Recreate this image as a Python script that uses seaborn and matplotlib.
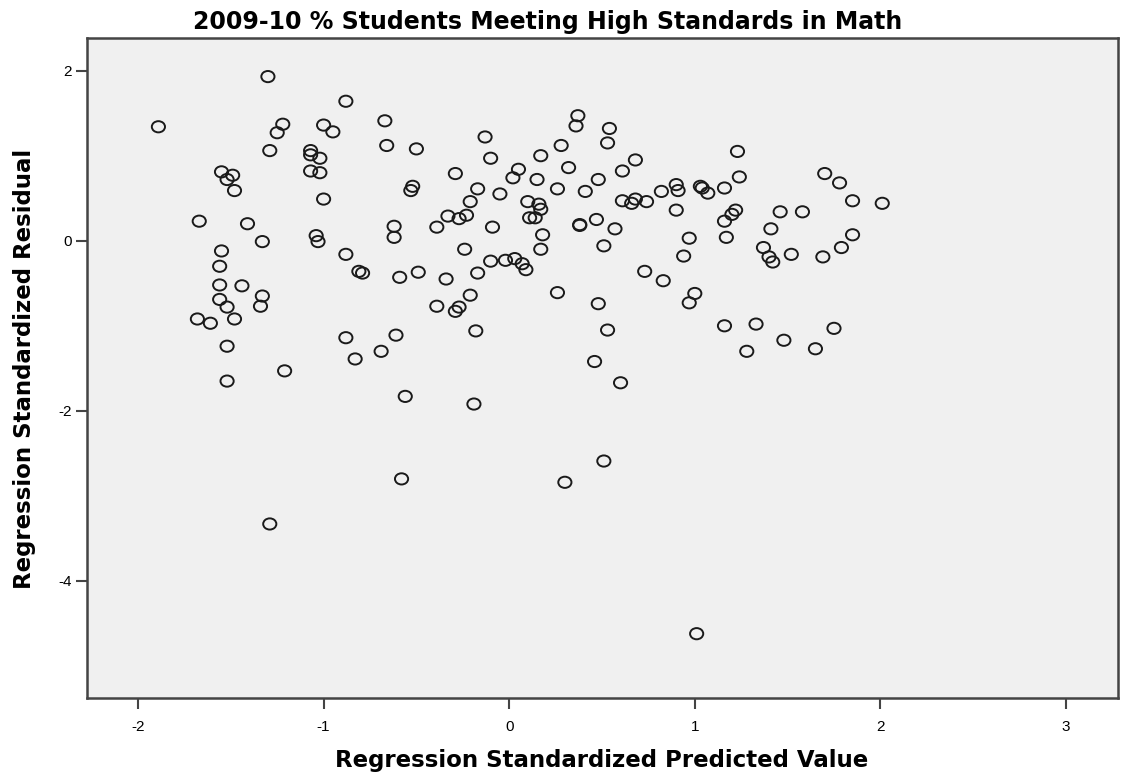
import pandas as pd
import seaborn as sns
import matplotlib.pyplot as plt
from matplotlib.path import Path
from matplotlib.transforms import Affine2D

# standardized predicted values (x) and residuals (y)
pred = [-1.89, -1.30, -0.88, -1.22, -1.25, -1.00, -0.95, -1.29, -1.07, -1.07,
        -1.02, -1.07, -1.02, -1.55, -1.49, -1.52, -1.48, -1.00, -1.67, -1.41,
        -1.33, -1.04, -1.03, -0.88, -1.55, -1.56, -1.56, -1.44, -1.33, -1.34,
        -1.56, -1.52, -1.48, -1.68, -1.61, -1.52, -1.52, -1.21, -1.29, -0.81,
        -0.79, -0.88, -0.83, -0.67, -0.66, -0.50, -0.13, -0.10, -0.29, -0.52,
        -0.53, 0.05, 0.02, 0.17, 0.28, 0.32, 0.37, 0.36, 0.15, 0.26,
        0.41, 0.48, -0.17, -0.05, -0.21, 0.10, 0.16, 0.17, 0.11, 0.14,
        -0.33, -0.23, -0.27, -0.39, -0.09, -0.62, -0.62, 0.18, 0.17, -0.24,
        0.38, 0.38, 0.47, 0.51, -0.59, -0.49, -0.34, -0.17, -0.10, -0.02,
        0.03, 0.07, 0.09, 0.26, 0.48, -0.21, -0.39, -0.27, -0.29, -0.18,
        -0.61, -0.69, 0.46, -0.56, -0.19, -0.58, 0.30, 0.51, 0.54, 0.53,
        0.68, 0.61, 0.61, 0.66, 0.68, 0.74, 0.82, 0.90, 0.91, 1.03,
        1.04, 1.07, 1.16, 1.23, 1.24, 1.70, 0.90, 0.57, 1.16, 1.20,
        1.22, 1.46, 1.58, 1.41, 0.97, 1.17, 1.37, 1.40, 1.42, 1.52,
        1.69, 0.94, 1.78, 1.85, 2.01, 1.85, 1.79, 0.73, 0.83, 1.00,
        0.97, 0.53, 0.60, 1.16, 1.33, 1.28, 1.48, 1.65, 1.75, 1.01]

resid = [1.34, 1.93, 1.64, 1.37, 1.27, 1.36, 1.28, 1.06, 1.06, 1.01,
         0.97, 0.82, 0.80, 0.81, 0.77, 0.72, 0.59, 0.49, 0.23, 0.20,
         -0.01, 0.06, -0.01, -0.16, -0.12, -0.30, -0.52, -0.53, -0.65, -0.77,
         -0.69, -0.78, -0.92, -0.92, -0.97, -1.24, -1.65, -1.53, -3.33, -0.36,
         -0.38, -1.14, -1.39, 1.41, 1.12, 1.08, 1.22, 0.97, 0.79, 0.64,
         0.59, 0.84, 0.74, 1.00, 1.12, 0.86, 1.47, 1.35, 0.72, 0.61,
         0.58, 0.72, 0.61, 0.55, 0.46, 0.46, 0.43, 0.37, 0.27, 0.27,
         0.29, 0.30, 0.26, 0.16, 0.16, 0.17, 0.04, 0.07, -0.10, -0.10,
         0.19, 0.18, 0.25, -0.06, -0.43, -0.37, -0.45, -0.38, -0.24, -0.23,
         -0.21, -0.27, -0.34, -0.61, -0.74, -0.64, -0.77, -0.78, -0.83, -1.06,
         -1.11, -1.30, -1.42, -1.83, -1.92, -2.80, -2.84, -2.59, 1.32, 1.15,
         0.95, 0.82, 0.47, 0.44, 0.49, 0.46, 0.58, 0.66, 0.59, 0.64,
         0.62, 0.56, 0.62, 1.05, 0.75, 0.79, 0.36, 0.14, 0.23, 0.31,
         0.36, 0.34, 0.34, 0.14, 0.03, 0.04, -0.08, -0.19, -0.25, -0.16,
         -0.19, -0.18, 0.68, 0.47, 0.44, 0.07, -0.08, -0.36, -0.47, -0.62,
         -0.73, -1.05, -1.67, -1.00, -0.98, -1.30, -1.17, -1.27, -1.03, -4.62]

xticks = [-2, -1, 0, 1, 2, 3]
yticks = [2, 0, -2, -4]

df = pd.DataFrame({'pred': pred, 'resid': resid})

sns.set_style('white')
plt.rcParams['font.family'] = ['Liberation Sans', 'DejaVu Sans']
plt.rcParams['axes.unicode_minus'] = False
plt.rcParams['text.color'] = 'black'

# SPSS draws its circles slightly wider than tall
oval = Path.unit_circle().transformed(Affine2D().scale(1.0, 0.85))

fig = plt.figure(figsize=(11.22, 7.74), dpi=100)
ax = fig.add_axes([0.0775, 0.0982, 0.9189, 0.8523])
ax.set_facecolor('#f0f0f0')

sns.scatterplot(data=df, x='pred', y='resid', ax=ax, marker=oval, s=90,
                facecolors='none', edgecolor='#1a1a1a', linewidth=1.4)

ax.set_xlim(-2.275, 3.28)
ax.set_ylim(-5.376, 2.38)
ax.set_xticks(xticks)
ax.set_yticks(yticks)
ax.tick_params(axis='both', direction='out', length=8, width=1.5,
               color='#444444', labelsize=11, labelcolor='black',
               left=True, bottom=True, pad=3)
ax.tick_params(axis='x', pad=8)
for sp in ax.spines.values():
    sp.set_color('#444444')
    sp.set_linewidth(1.8)

ax.set_xlabel('')
ax.set_ylabel('')
fig.text(193 / 1122, 1 - 29.5 / 774,
         '2009-10 % Students Meeting High Standards in Math',
         family='DejaVu Sans', fontsize=17, fontweight='bold',
         ha='left', va='baseline')
fig.text(602 / 1122, 1 - 767 / 774, 'Regression Standardized Predicted Value',
         family='DejaVu Sans', fontsize=16.5, fontweight='bold',
         ha='center', va='baseline')
fig.text(25 / 1122, 1 - 369 / 774, 'Regression Standardized Residual',
         family='DejaVu Sans', fontsize=16.5, fontweight='bold',
         ha='center', va='center', rotation=90)

plt.savefig('out.png', dpi=100)
plt.close()
